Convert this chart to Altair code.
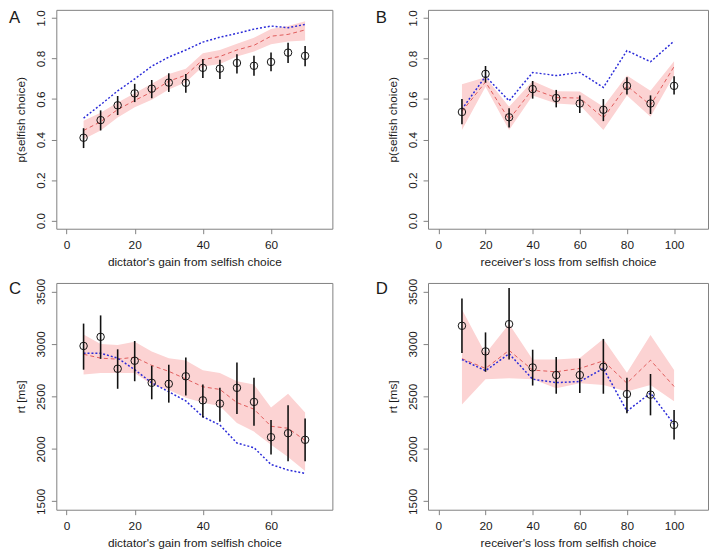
import altair as alt
import pandas as pd

# ---------------- data ----------------
gain_x = [5, 10, 15, 20, 25, 30, 35, 40, 45, 50, 55, 60, 65, 70]
loss_x = [10, 20, 30, 40, 50, 60, 70, 80, 90, 100]

# Panel A: p(selfish choice) vs dictator's gain
a_obs = [0.409, 0.496, 0.569, 0.628, 0.651, 0.681, 0.680, 0.754, 0.750, 0.778, 0.764, 0.783, 0.829, 0.813]
a_obs_lo = [0.358, 0.445, 0.521, 0.585, 0.604, 0.635, 0.631, 0.704, 0.699, 0.726, 0.715, 0.737, 0.778, 0.762]
a_obs_hi = [0.456, 0.544, 0.615, 0.675, 0.694, 0.727, 0.723, 0.797, 0.794, 0.821, 0.813, 0.829, 0.878, 0.862]
a_model = [0.445, 0.488, 0.548, 0.593, 0.635, 0.688, 0.718, 0.794, 0.810, 0.842, 0.865, 0.910, 0.919, 0.941]
a_band_lo = [0.401, 0.445, 0.509, 0.559, 0.596, 0.647, 0.683, 0.761, 0.773, 0.810, 0.834, 0.870, 0.884, 0.889]
a_band_hi = [0.493, 0.532, 0.583, 0.628, 0.675, 0.723, 0.750, 0.826, 0.842, 0.873, 0.902, 0.945, 0.960, 0.984]
a_alt = [0.506, 0.572, 0.640, 0.699, 0.762, 0.807, 0.842, 0.881, 0.905, 0.924, 0.945, 0.960, 0.952, 0.968]

# Panel B: p(selfish choice) vs receiver's loss
b_obs = [0.536, 0.724, 0.510, 0.649, 0.605, 0.578, 0.547, 0.665, 0.578, 0.665]
b_obs_lo = [0.476, 0.681, 0.460, 0.602, 0.559, 0.531, 0.491, 0.622, 0.526, 0.622]
b_obs_hi = [0.600, 0.763, 0.555, 0.689, 0.645, 0.618, 0.600, 0.708, 0.618, 0.712]
b_model = [0.539, 0.684, 0.499, 0.649, 0.607, 0.605, 0.507, 0.665, 0.570, 0.760]
b_band_lo = [0.447, 0.660, 0.447, 0.618, 0.578, 0.570, 0.447, 0.618, 0.512, 0.717]
b_band_hi = [0.673, 0.708, 0.562, 0.689, 0.638, 0.637, 0.562, 0.716, 0.641, 0.787]
b_alt = [0.550, 0.712, 0.591, 0.731, 0.716, 0.731, 0.657, 0.839, 0.784, 0.886]

# Panel C: rt [ms] vs dictator's gain
c_obs = [2980, 3067, 2763, 2839, 2629, 2619, 2691, 2462, 2431, 2581, 2447, 2111, 2149, 2086]
c_obs_lo = [2754, 2857, 2572, 2644, 2472, 2440, 2509, 2299, 2259, 2331, 2221, 1945, 1882, 1882]
c_obs_hi = [3193, 3271, 2948, 3027, 2792, 2801, 2870, 2613, 2581, 2823, 2676, 2274, 2415, 2290]
c_model = [2901, 2864, 2854, 2873, 2795, 2738, 2666, 2591, 2566, 2440, 2378, 2215, 2196, 2080]
c_band_lo = [2707, 2723, 2723, 2723, 2613, 2560, 2487, 2440, 2409, 2246, 2164, 2039, 1923, 1788]
c_band_hi = [3089, 2998, 2989, 3020, 2926, 2864, 2842, 2748, 2723, 2644, 2613, 2393, 2525, 2346]
c_alt = [2911, 2911, 2864, 2754, 2629, 2544, 2456, 2306, 2227, 2055, 2011, 1851, 1798, 1766]

# Panel D: rt [ms] vs receiver's loss
d_obs = [3172, 2928, 3188, 2775, 2703, 2703, 2781, 2522, 2516, 2228]
d_obs_lo = [2913, 2734, 2850, 2603, 2525, 2531, 2525, 2338, 2319, 2088]
d_obs_hi = [3431, 3109, 3531, 2944, 2875, 2859, 3047, 2678, 2713, 2369]
d_model = [2859, 2766, 2938, 2750, 2734, 2766, 2838, 2625, 2844, 2594]
d_band_lo = [2422, 2663, 2672, 2663, 2578, 2625, 2609, 2547, 2609, 2453]
d_band_hi = [3328, 2906, 3188, 2850, 2850, 2866, 3047, 2725, 3084, 2750]
d_alt = [2850, 2744, 2906, 2663, 2631, 2641, 2766, 2359, 2531, 2234]

gain_ticks = [0, 20, 40, 60]
loss_ticks = [0, 20, 40, 60, 80, 100]
p_ticks = [0.0, 0.2, 0.4, 0.6, 0.8, 1.0]
rt_ticks = [1500, 2000, 2500, 3000, 3500]
panel_letters = ["A", "B", "C", "D"]

FONT = "Liberation Sans"
FRAME = "#808080"
TXT = "#1a1a1a"


def panel(letter, xs, obs, lo, hi, model, blo, bhi, alt_line,
          xdom, xticks, xtitle, ydom, yticks, yfmt, ytitle, w, h, lx, ly):
    df = pd.DataFrame({"x": xs, "obs": obs, "lo": lo, "hi": hi, "model": model,
                       "blo": blo, "bhi": bhi, "alt": alt_line})
    xsc = alt.Scale(domain=xdom, nice=False, zero=False)
    ysc = alt.Scale(domain=ydom, nice=False, zero=False)
    xax = alt.Axis(values=xticks, title=xtitle, domain=False, grid=False,
                   tickColor=FRAME, tickSize=5, labelPadding=6,
                   labelFont=FONT, labelFontSize=12, labelColor=TXT,
                   labelFlush=False, labelOverlap=False,
                   titleFont=FONT, titleFontSize=12, titleFontWeight="normal",
                   titleColor=TXT, titlePadding=6)
    yax = alt.Axis(values=yticks, title=ytitle, format=yfmt, domain=False, grid=False,
                   tickColor=FRAME, tickSize=5, labelPadding=7,
                   labelAngle=270, labelAlign="center", labelBaseline="alphabetic",
                   labelFont=FONT, labelFontSize=12, labelColor=TXT,
                   labelFlush=False, labelOverlap=False,
                   titleFont=FONT, titleFontSize=12, titleFontWeight="normal",
                   titleColor=TXT, titlePadding=7)
    base = alt.Chart(df)
    band = base.mark_area(color="#FCD3D3", opacity=1).encode(
        x=alt.X("x:Q", scale=xsc, axis=xax),
        y=alt.Y("blo:Q", scale=ysc, axis=yax),
        y2="bhi:Q",
    )
    red = base.mark_line(color="#E05A5A", strokeWidth=1, strokeDash=[4, 3]).encode(
        x="x:Q", y="model:Q")
    blue = base.mark_line(color="#2B2BD8", strokeWidth=1.5, strokeDash=[2, 2]).encode(
        x="x:Q", y="alt:Q")
    bars = base.mark_rule(color="#111111", strokeWidth=1.6).encode(
        x="x:Q", y="lo:Q", y2="hi:Q")
    pts = base.mark_point(shape="circle", filled=False, color="#111111", size=58,
                          strokeWidth=1, opacity=1).encode(x="x:Q", y="obs:Q")
    lab = alt.Chart(pd.DataFrame({"t": [letter]})).mark_text(
        align="left", baseline="top", font=FONT, fontSize=17, color=TXT
    ).encode(x=alt.value(lx), y=alt.value(ly), text="t:N")
    return alt.layer(band, red, blue, bars, pts, lab).properties(width=w, height=h)


pA = panel(panel_letters[0], gain_x, a_obs, a_obs_lo, a_obs_hi, a_model, a_band_lo, a_band_hi, a_alt,
           [-3, 78], gain_ticks, "dictator's gain from selfish choice",
           [-0.04, 1.04], p_ticks, ".1f", "p(selfish choice)", 280, 222, -48, 0)
pB = panel(panel_letters[1], loss_x, b_obs, b_obs_lo, b_obs_hi, b_model, b_band_lo, b_band_hi, b_alt,
           [-4.4, 114.4], loss_ticks, "receiver's loss from selfish choice",
           [-0.04, 1.04], p_ticks, ".1f", "p(selfish choice)", 284, 222, -53, 0)
pC = panel(panel_letters[2], gain_x, c_obs, c_obs_lo, c_obs_hi, c_model, c_band_lo, c_band_hi, c_alt,
           [-3, 78], gain_ticks, "dictator's gain from selfish choice",
           [1420, 3580], rt_ticks, "d", "rt [ms]", 280, 230, -48, -2)
pD = panel(panel_letters[3], loss_x, d_obs, d_obs_lo, d_obs_hi, d_model, d_band_lo, d_band_hi, d_alt,
           [-4.4, 114.4], loss_ticks, "receiver's loss from selfish choice",
           [1420, 3580], rt_ticks, "d", "rt [ms]", 284, 230, -53, -2)

chart = alt.concat(pA, pB, pC, pD, columns=2, align="each",
                   spacing={"row": 9, "column": 42}).properties(
    padding={"left": 0, "top": -4, "right": 0, "bottom": 0},
    background="white",
).configure_view(stroke=FRAME, strokeWidth=1)

chart.save("out.html", embed_options={"renderer": "svg", "actions": False})
